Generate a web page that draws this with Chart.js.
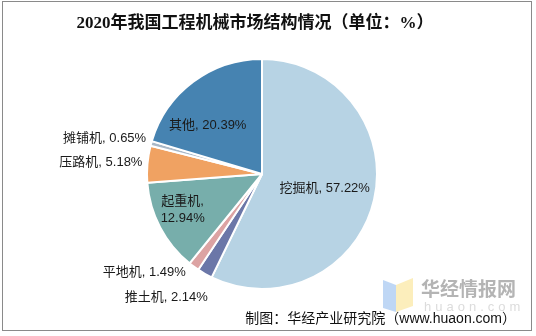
<!DOCTYPE html>
<html>
<head>
<meta charset="utf-8">
<script src="https://cdn.jsdelivr.net/npm/chart.js@4.4.1/dist/chart.umd.min.js"></script>
<style>
  html, body { margin: 0; padding: 0; background: #fff; }
  #wrap { width: 536px; height: 336px; position: relative; }
</style>
</head>
<body>
<div id="wrap"><canvas id="c" width="536" height="336"></canvas></div>
<script>
// 2020 construction machinery market structure (%)
const categories = ['挖掘机', '推土机', '平地机', '起重机', '压路机', '摊铺机', '其他'];
const shares = [57.22, 2.14, 1.49, 12.94, 5.18, 0.65, 20.39];
const sliceColors = ['#b7d3e4', '#6b77a8', '#dca3a3', '#77aeab', '#f0a262', '#a9b8c7', '#4683b1'];

const titleText = '2020年我国工程机械市场结构情况（单位：%）';
const sourceText = '制图：华经产业研究院（www.huaon.com）';

const labelFont = '13px "Liberation Sans", "Noto Sans CJK SC", sans-serif';

// label placement per slice: inside at a radius fraction, or outside anchored at the rim
const labelPlacement = [
  { mode: 'in', r: 0.56, dx: 0, dy: 0 },
  { mode: 'out', dx: 3, dy: 24 },
  { mode: 'out', dx: -8, dy: 6 },
  { mode: 'in', r: 0.72, dx: -6, dy: -3, split: true },
  { mode: 'out', dx: -5, dy: -2 },
  { mode: 'out', dx: -5, dy: -5 },
  { mode: 'in', r: 0.6, dx: -13, dy: 7 }
];

const decorPlugin = {
  id: 'decor',
  beforeDraw(chart) {
    const ctx = chart.ctx;
    ctx.save();
    ctx.fillStyle = '#ffffff';
    ctx.fillRect(0, 0, chart.width, chart.height);
    // frame
    ctx.strokeStyle = '#8a8a8a';
    ctx.lineWidth = 1;
    ctx.strokeRect(2.5, 1.5, 529, 329);
    // title
    ctx.fillStyle = '#111111';
    ctx.font = 'bold 17px "Liberation Serif", "Noto Sans CJK SC", serif';
    ctx.textAlign = 'center';
    ctx.textBaseline = 'middle';
    ctx.fillText(titleText, 255, 24);
    // watermark logo
    ctx.globalAlpha = 0.75;
    ctx.fillStyle = '#a9c9f2';
    ctx.beginPath();
    ctx.moveTo(383, 280); ctx.lineTo(396, 285); ctx.lineTo(396, 312); ctx.lineTo(383, 308);
    ctx.closePath(); ctx.fill();
    ctx.fillStyle = '#fbe8a6';
    ctx.beginPath();
    ctx.moveTo(396, 285); ctx.lineTo(413, 278); ctx.lineTo(413, 306); ctx.lineTo(396, 312);
    ctx.closePath(); ctx.fill();
    ctx.globalAlpha = 1;
    ctx.fillStyle = '#b4b4b4';
    ctx.font = 'bold 19px "Noto Sans CJK SC", sans-serif';
    ctx.textAlign = 'left';
    ctx.fillText('华经情报网', 421, 289);
    ctx.fillStyle = '#dcdcdc';
    ctx.font = '13px "Liberation Sans", sans-serif';
    if ('letterSpacing' in ctx) ctx.letterSpacing = '4px';
    ctx.fillText('huaon.com', 424, 307);
    if ('letterSpacing' in ctx) ctx.letterSpacing = '0px';
    ctx.restore();
  },
  afterDatasetsDraw(chart) {
    const ctx = chart.ctx;
    const meta = chart.getDatasetMeta(0);
    ctx.save();
    ctx.font = labelFont;
    ctx.fillStyle = '#1a1a1a';
    ctx.textBaseline = 'middle';
    meta.data.forEach((arc, i) => {
      const p = arc.getProps(['x', 'y', 'startAngle', 'endAngle', 'outerRadius'], true);
      const mid = (p.startAngle + p.endAngle) / 2;
      const cfg = labelPlacement[i];
      const text = categories[i] + ', ' + shares[i].toFixed(2) + '%';
      if (cfg.mode === 'in') {
        const d = p.outerRadius * cfg.r;
        const x = p.x + Math.cos(mid) * d + cfg.dx;
        const y = p.y + Math.sin(mid) * d + cfg.dy;
        ctx.textAlign = 'center';
        if (cfg.split) {
          ctx.fillText(categories[i] + ',', x, y - 8.5);
          ctx.fillText(shares[i].toFixed(2) + '%', x, y + 8.5);
        } else {
          ctx.fillText(text, x, y);
        }
      } else {
        const x = p.x + Math.cos(mid) * p.outerRadius + cfg.dx;
        const y = p.y + Math.sin(mid) * p.outerRadius + cfg.dy;
        ctx.textAlign = 'right';
        ctx.fillText(text, x, y);
      }
    });
    // source note
    ctx.textAlign = 'right';
    ctx.font = '14px "Liberation Sans", "Noto Sans CJK SC", sans-serif';
    ctx.fillStyle = '#111111';
    ctx.fillText(sourceText, 516, 319);
    ctx.restore();
  }
};

new Chart(document.getElementById('c'), {
  type: 'pie',
  data: {
    labels: categories,
    datasets: [{
      data: shares,
      backgroundColor: sliceColors,
      borderColor: '#ffffff',
      borderWidth: 2,
      hoverOffset: 0
    }]
  },
  options: {
    responsive: false,
    animation: false,
    layout: { padding: { top: 58, bottom: 46, left: 40, right: 52 } },
    plugins: {
      legend: { display: false },
      tooltip: { enabled: false },
      title: { display: false }
    }
  },
  plugins: [decorPlugin]
});
</script>
</body>
</html>
